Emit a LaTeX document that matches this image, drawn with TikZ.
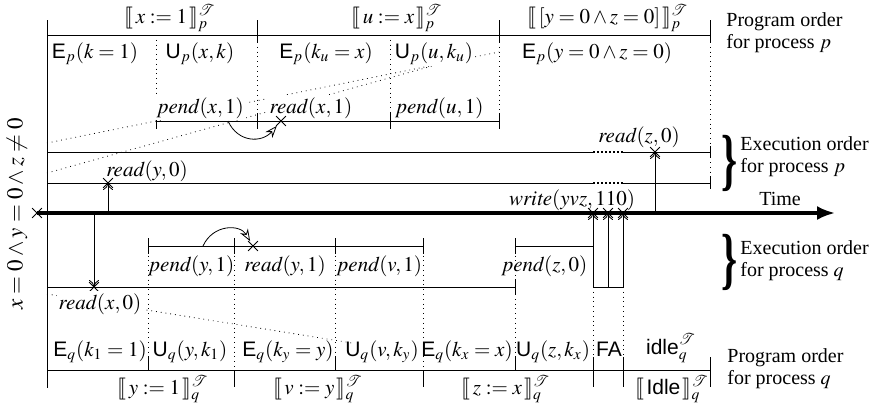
\documentclass[tikz,border=0pt]{standalone}
\usepackage{mathptmx}
\usepackage[no-math]{fontspec}
\setmainfont{Liberation Serif}
\setsansfont{Liberation Sans}
\usepackage{stmaryrd}
\usetikzlibrary{positioning,arrows.meta,shapes.misc,calc}

\newcommand{\semT}[2]{\llbracket\, #1 \,\rrbracket^{\mathcal{T}}_{#2}}
\newcommand{\opE}{\textsf{E}}
\newcommand{\opU}{\textsf{U}}
\newcommand{\bigbrace}{\scalebox{0.6}[1]{\fontsize{34}{34}\selectfont\bfseries\}}}

\begin{document}
\begin{tikzpicture}[
    x=0.5pt, y=-0.5pt,
    every node/.style={font=\fontsize{10.5}{11}\selectfont},
    lbl/.style={anchor=base, inner sep=1pt},
    mask/.style={lbl, fill=white},
    evt/.style={cross out, draw, minimum size=4.5pt, inner sep=0pt},
    guide/.style={dotted},
    fire/.style={-{To[length=3.5pt,width=5pt]}},
    hop/.style={-{Stealth[open,length=6pt,width=4.5pt]}},
    timeaxis/.style={line width=1.6pt, -{Latex[length=9pt,width=7pt]}},
    gap/.style={densely dotted, line width=1pt},
    note/.style={anchor=west, align=left, inner sep=0pt, font=\fontsize{10}{11}\selectfont}
]
\useasboundingbox (0,0) rectangle (878,408);

% dotted guides
\coordinate (gp1) at (47,143);  \coordinate (gp1e) at (499,52);
\coordinate (gp2) at (47,173);  \coordinate (gp2e) at (443,63);
\coordinate (gq1) at (47,294);  \coordinate (gq1e) at (352,343);
\draw[guide] (gp1) -- (gp1e);
\draw[guide] (gp2) -- (gp2e);
\draw[guide] (gq1) -- (gq1e);
\foreach \x/\a/\b in {156/35/121, 257/42/121, 390/35/121, 499/42/121, 710/42/183,
    148/246/357, 234/246/370, 335/246/357, 423/246/370, 515/246/357, 593/287/357, 623/287/357}
  \draw[guide] (\x,\a) -- (\x,\b);

% program order, process p
\draw (47,20) -- (47,388);
\draw (47,35) -- (710,35);
\foreach \x in {257,499,710} \draw (\x,20) -- (\x,42);
\node[lbl] (sx1) at (170,23) {$\semT{x := 1}{p}$};
\node[lbl] (sux) at (397,23) {$\semT{u := x}{p}$};
\node[lbl] (syz) at (608,23) {$\semT{[y = 0 \wedge z = 0]}{p}$};
\node[lbl] (ep1) at (95,58) {$\opE_p(k = 1)$};
\node[lbl] (up1) at (200,58) {$\opU_p(x,k)$};
\node[lbl] (ep2) at (326,58) {$\opE_p(k_u = x)$};
\node[mask] (up2) at (434,58) {$\opU_p(u,k_u)$};
\node[lbl] (ep3) at (597,58) {$\opE_p(y = 0 \wedge z = 0)$};
\node[note] (pop) at (726,33) {Program order\\for process $p$};

% execution order, process p
\draw (156,121) -- (499,121);
\foreach \x in {156,257,390,499} \draw (\x,113) -- (\x,129);
\node[mask] (pdx1) at (201,113) {$\mathit{pend}(x,1)$};
\node[mask] (rdx1l) at (311,113) {$\mathit{read}(x,1)$};
\node[lbl] (pdu1) at (440,113) {$\mathit{pend}(u,1)$};
\draw (257,113) -- (257,129);
\node[evt] (rdx1) at (281,121) {};
\coordinate (pxa) at (228,121);
\draw[hop] (pxa) .. controls (238,143) and (262,143) .. (rdx1);
\foreach \y in {152,183} {
  \draw (47,\y) -- (593,\y);
  \draw[gap] (593,\y) -- (623,\y);
  \draw (623,\y) -- (710,\y);
  \draw (710,\y-6) -- (710,\y+6);
}
\node[evt] (rdz0) at (655,152) {};
\node[evt] (rdy0) at (108,183) {};
\node[lbl] (rdz0l) at (639,142) {$\mathit{read}(z,0)$};
\node[lbl] (rdy0l) at (147,176) {$\mathit{read}(y,0)$};
\node[inner sep=0pt] (brp) at (730,163) {\bigbrace};
\node[note] (eop) at (740,157) {Execution order\\for process $p$};

% time
\node[evt] (t0) at (37,213) {};
\coordinate (tend) at (835,213);
\draw[timeaxis] (t0.center) -- (tend);
\node[lbl, font=\fontsize{10}{11}\selectfont] (tlbl) at (780,205) {Time};
\node[lbl] (wrl) at (572,205) {$\mathit{write}(yvz,110)$};
\coordinate (fy0) at (108,213);
\coordinate (fz0) at (655,213);
\coordinate (fx0) at (94,213);
\draw[fire] (fy0) -- (rdy0.center);
\draw[fire] (fz0) -- (rdz0.center);

% execution order, process q
\draw (148,246) -- (423,246);
\foreach \x in {148,234,335,423} \draw (\x,238) -- (\x,254);
\draw (515,246) -- (593,246);
\draw (515,238) -- (515,254);
\draw (47,287) -- (515,287);
\draw (515,279) -- (515,295);
\node[evt] (rdy1) at (253,246) {};
\coordinate (pya) at (203,246);
\draw[hop] (pya) .. controls (213,224) and (240,224) .. (rdy1);
\node[lbl] (pdy1) at (192,271) {$\mathit{pend}(y,1)$};
\node[lbl] (rdy1l) at (285,271) {$\mathit{read}(y,1)$};
\node[lbl] (pdv1) at (380,271) {$\mathit{pend}(v,1)$};
\node[lbl] (pdz0) at (545,271) {$\mathit{pend}(z,0)$};
\node[evt] (rdx0) at (94,287) {};
\draw[fire] (fx0) -- (rdx0.center);
\node[mask] (rdx0l) at (100,309) {$\mathit{read}(x,0)$};
\coordinate (fa1) at (593,287);
\coordinate (fa2) at (608,287);
\coordinate (fa3) at (623,287);
\node[evt] (wr1) at (593,213) {};
\node[evt] (wr2) at (608,213) {};
\node[evt] (wr3) at (623,213) {};
\draw (fa1) -- (fa3);
\draw[fire] (fa1) -- (wr1.center);
\draw[fire] (fa2) -- (wr2.center);
\draw[fire] (fa3) -- (wr3.center);
\node[inner sep=0pt] (brq) at (730,262) {\bigbrace};
\node[note] (eoq) at (740,261) {Execution order\\for process $q$};

% program order, process q
\draw (47,370) -- (710,370);
\foreach \x in {148,335,515} \draw (\x,357) -- (\x,370);
\foreach \x in {234,423} \draw (\x,370) -- (\x,387);
\foreach \x in {593,623,710} \draw (\x,357) -- (\x,387);
\node[lbl] (eq1) at (100,356) {$\opE_q(k_1 = 1)$};
\node[lbl] (uq1) at (190,356) {$\opU_q(y,k_1)$};
\node[lbl] (eq2) at (288,356) {$\opE_q(k_y = y)$};
\node[lbl] (uq2) at (382,356) {$\opU_q(v,k_y)$};
\node[lbl] (eq3) at (467,356) {$\opE_q(k_x = x)$};
\node[lbl] (uq3) at (553,356) {$\opU_q(z,k_x)$};
\node[lbl] (fa) at (609,356) {\textsf{FA}};
\node[lbl] (idl) at (671,354) {$\textsf{idle}^{\mathcal{T}}_q$};
\node[lbl] (sy1) at (163,394) {$\semT{y := 1}{q}$};
\node[lbl] (svy) at (318,394) {$\semT{v := y}{q}$};
\node[lbl] (szx) at (506,394) {$\semT{z := x}{q}$};
\node[lbl] (sidl) at (672,394) {$\semT{\textsf{Idle}}{q}$};
\node[note] (poq) at (727,369) {Program order\\for process $q$};

\node[rotate=90, font=\fontsize{11.5}{12}\selectfont] (init) at (17,214) {$x = 0 \wedge y = 0 \wedge z \neq 0$};
\end{tikzpicture}
\end{document}
